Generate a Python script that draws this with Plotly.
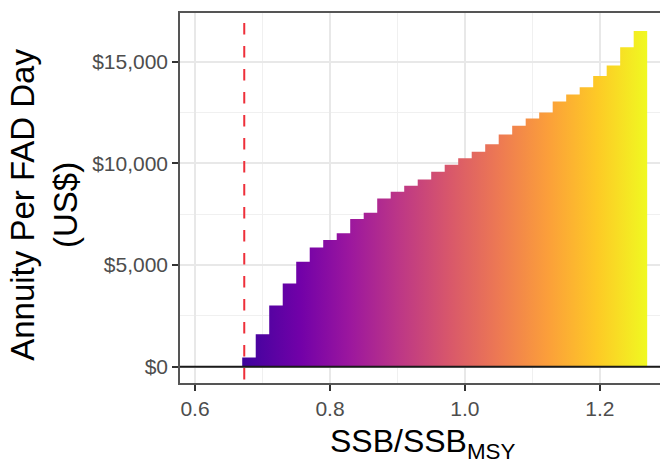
import plotly.graph_objects as go

# Annuity per FAD day, binned by relative spawning biomass (SSB/SSB_MSY)
ssb_bin_left = [0.67, 0.69, 0.71, 0.73, 0.75, 0.77, 0.79, 0.81, 0.83, 0.85,
                0.87, 0.89, 0.91, 0.93, 0.95, 0.97, 0.99, 1.01, 1.03, 1.05,
                1.07, 1.09, 1.11, 1.13, 1.15, 1.17, 1.19, 1.21, 1.23, 1.25]
bin_width = 0.02
annuity = [450, 1600, 3010, 4090, 5160, 5860, 6230, 6560, 7270, 7570,
           8280, 8610, 8900, 9210, 9590, 9930, 10260, 10570, 10950, 11420,
           11850, 12210, 12500, 13050, 13390, 13750, 14300, 14820, 15720, 16520]

# Limit reference point
ssb_limit = 0.673
# SSB/SSB_MSY span covered by the fill colour scale
colour_span = [0.61, 1.27]

x_ticks = [0.6, 0.8, 1.0, 1.2]
x_tick_labels = ["0.6", "0.8", "1.0", "1.2"]
x_minor = [0.7, 0.9, 1.1]
y_ticks = [0, 5000, 10000, 15000]
y_tick_labels = ["$0", "$5,000", "$10,000", "$15,000"]
y_minor = [2500, 7500, 12500]

# Step outline: each bin holds its value until the next edge
step_x = ssb_bin_left + [ssb_bin_left[-1] + bin_width]
step_y = annuity + [annuity[-1]]

FONT = "Liberation Sans, Arial, sans-serif"
GRID = "#e8e8e8"
AXIS = "#555555"

fig = go.Figure()
fig.add_trace(go.Scatter(
    x=step_x, y=step_y, mode="lines", line=dict(shape="hv", width=0),
    fill="tozeroy",
    fillgradient=dict(type="horizontal", colorscale="Plasma",
                      start=colour_span[0], stop=colour_span[1]),
    hoverinfo="skip", showlegend=False,
))

# zero line and limit reference line
fig.add_shape(type="line", xref="paper", x0=0, x1=1, yref="y", y0=0, y1=0,
              line=dict(color="#1a1a1a", width=2), layer="above")
fig.add_shape(type="line", xref="x", x0=ssb_limit, x1=ssb_limit,
              yref="paper", y0=0.973, y1=0,
              line=dict(color="#ee2f3a", width=2, dash="11.5px,11.5px"),
              layer="above")

fig.update_xaxes(
    range=[0.5778, 1.289], tickvals=x_ticks, ticktext=x_tick_labels,
    ticks="outside", ticklen=6, tickwidth=1.5, tickcolor="#333333",
    tickfont=dict(family=FONT, size=21, color="#4d4d4d"),
    showgrid=True, gridcolor=GRID, gridwidth=1.6,
    minor=dict(tickvals=x_minor, showgrid=True, gridcolor="#f0f0f0",
               gridwidth=0.9, ticks=""),
    showline=True, linecolor=AXIS, linewidth=1.5, mirror=True,
    zeroline=False,
)
fig.update_yaxes(
    range=[-800, 17400], tickvals=y_ticks, ticktext=y_tick_labels,
    ticks="outside", ticklen=6, tickwidth=1.5, tickcolor="#333333",
    tickfont=dict(family=FONT, size=21, color="#4d4d4d"),
    showgrid=True, gridcolor=GRID, gridwidth=1.6,
    minor=dict(tickvals=y_minor, showgrid=True, gridcolor="#f0f0f0",
               gridwidth=0.9, ticks=""),
    showline=True, linecolor=AXIS, linewidth=1.5, mirror=False,
    zeroline=False,
)

fig.add_annotation(
    text="SSB/SSB<sub>MSY</sub>", xref="paper", yref="paper",
    x=0.507, y=-0.102, xanchor="center", yanchor="top", showarrow=False,
    font=dict(family=FONT, size=32, color="#000000"),
)
fig.add_annotation(
    text="Annuity Per FAD Day<br>(US$)", xref="paper", yref="paper",
    x=-0.283, y=0.482, xanchor="center", yanchor="middle", showarrow=False,
    textangle=-90, font=dict(family=FONT, size=33, color="#000000"),
)

fig.update_layout(
    width=660, height=460,
    margin=dict(l=180, r=0, t=13, b=77),
    plot_bgcolor="white", paper_bgcolor="white",
    showlegend=False,
)

fig.write_html("out.html")
